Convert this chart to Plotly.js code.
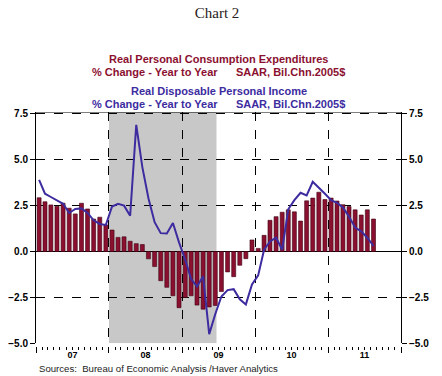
<!DOCTYPE html>
<html>
<head>
<meta charset="utf-8">
<script src="https://cdn.plot.ly/plotly-3.0.1.min.js"></script>
<style>html,body{margin:0;padding:0;background:#fff;}#chart{width:442px;height:376px;}</style>
</head>
<body>
<div id="chart"></div>
<script>
// Months (monthly observations)
const months = [
  '2007-01','2007-02','2007-03','2007-04','2007-05','2007-06','2007-07','2007-08','2007-09','2007-10','2007-11','2007-12',
  '2008-01','2008-02','2008-03','2008-04','2008-05','2008-06','2008-07','2008-08','2008-09','2008-10','2008-11','2008-12',
  '2009-01','2009-02','2009-03','2009-04','2009-05','2009-06','2009-07','2009-08','2009-09','2009-10','2009-11','2009-12',
  '2010-01','2010-02','2010-03','2010-04','2010-05','2010-06','2010-07','2010-08','2010-09','2010-10','2010-11','2010-12',
  '2011-01','2011-02','2011-03','2011-04','2011-05','2011-06','2011-07','2011-08'
];
// Real Personal Consumption Expenditures, % change y/y (bars)
const pce = [
  2.93, 2.71, 2.54, 2.47, 2.63, 2.36, 2.05, 2.63, 2.32, 1.77, 1.87, 1.45,
  1.17, 0.77, 0.80, 0.56, 0.43, 0.38, -0.40, -0.82, -1.59, -1.95, -2.41, -3.06,
  -2.50, -2.41, -2.92, -3.14, -3.02, -2.94, -2.18, -1.11, -1.37, -0.75, -0.39, 0.63,
  0.17, 0.88, 1.70, 1.90, 2.14, 2.27, 2.16, 1.66, 2.76, 2.91, 3.23, 2.83,
  2.91, 2.75, 2.55, 2.45, 2.27, 1.99, 2.27, 1.77
];
// Real Disposable Personal Income, % change y/y (line)
const dpi = [
  3.90, 3.15, 2.97, 2.80, 2.60, 2.10, 2.32, 2.35, 2.10, 1.70, 1.50, 1.45,
  2.45, 2.60, 2.50, 1.95, 6.90, 4.60, 2.90, 1.60, 1.00, 0.98, 1.55, 0.50,
  -0.45, -1.50, -1.90, -1.35, -4.50, -3.40, -2.45, -2.10, -2.05, -2.60, -2.88, -1.80,
  -1.30, 0.10, 0.55, 0.75, 0.10, 2.30, 2.80, 3.20, 3.05, 3.80, 3.50, 3.15,
  2.80, 2.65, 2.40, 1.90, 1.30, 1.10, 0.75, 0.30
];
const yTicks = [-5, -2.5, 0, 2.5, 5, 7.5];
const recession = ['2008-01-01', '2009-06-22'];

const tickFont = {family: 'Arial, "Liberation Sans", sans-serif', size: 10, color: '#000', weight: 700};
const xTickFont = {family: 'Arial, "Liberation Sans", sans-serif', size: 9, color: '#000', weight: 700};
const red = '#8b1030';
const blue = '#3c2ca0';
const hdrFont = c => ({family: 'Arial, "Liberation Sans", sans-serif', size: 11, color: c, weight: 700});

const traces = [
  {
    type: 'bar', x: months, y: pce,
    xperiod: 'M1', xperiodalignment: 'middle',
    width: 20 * 86400000,
    marker: {color: red, line: {color: '#3a0012', width: 0.6}},
    hoverinfo: 'skip', showlegend: false
  },
  {
    type: 'scatter', mode: 'lines', x: months, y: dpi,
    xperiod: 'M1', xperiodalignment: 'middle',
    line: {color: blue, width: 2},
    hoverinfo: 'skip', showlegend: false
  },
  {
    type: 'scatter', mode: 'lines', x: months, y: dpi, yaxis: 'y2',
    xperiod: 'M1', xperiodalignment: 'middle',
    line: {color: 'rgba(0,0,0,0)', width: 0}, opacity: 0,
    hoverinfo: 'skip', showlegend: false
  }
];

const yRange = [-5, 7.6];
const layout = {
  width: 442, height: 376,
  margin: {l: 36, r: 41, t: 112, b: 30},
  paper_bgcolor: '#fff', plot_bgcolor: '#fff',
  bargap: 0,
  title: {
    text: 'Chart 2', xref: 'container', x: 0.491, y: 0.965, yanchor: 'middle', xanchor: 'center',
    font: {family: '"Liberation Serif", "Times New Roman", serif', size: 15, color: '#2a2020'}
  },
  xaxis: {
    type: 'date', range: ['2007-01-01', '2012-01-01'],
    anchor: 'free', position: 0,
    tick0: '2007-01-01', dtick: 'M12', tickformat: '%y', ticklabelmode: 'period',
    ticks: 'outside', ticklen: 6, tickcolor: '#000', tickwidth: 1,
    ticklabelstandoff: -6,
    minor: {dtick: 'M1', ticks: 'outside', ticklen: 3, tickcolor: '#000', showgrid: false},
    showgrid: true, gridcolor: '#000', griddash: 'dash', gridwidth: 1,
    showline: false, zeroline: false,
    tickfont: xTickFont, fixedrange: true
  },
  yaxis: {
    range: yRange, domain: [0.0115, 1],
    tickmode: 'array', tickvals: yTicks, tickformat: '.1f',
    ticks: 'outside', ticklen: 5, tickcolor: '#000',
    showline: true, linecolor: '#000', linewidth: 1,
    showgrid: true, gridcolor: '#000', griddash: 'dash', gridwidth: 1,
    zeroline: true, zerolinecolor: '#000', zerolinewidth: 1,
    tickfont: tickFont, fixedrange: true
  },
  yaxis2: {
    range: yRange, overlaying: 'y', side: 'right',
    tickmode: 'array', tickvals: yTicks, tickformat: '.1f',
    ticks: 'outside', ticklen: 5, tickcolor: '#000',
    showline: true, linecolor: '#000', linewidth: 1,
    showgrid: false, zeroline: false,
    tickfont: tickFont, fixedrange: true
  },
  shapes: [
    {type: 'rect', xref: 'x', yref: 'y', x0: recession[0], x1: recession[1], y0: yRange[0], y1: yRange[1],
     fillcolor: '#c8c8c8', line: {width: 0}, layer: 'below'},
    {type: 'line', xref: 'paper', yref: 'y', x0: 0, x1: 1, y0: yRange[1], y1: yRange[1],
     line: {color: '#000', width: 1}}
  ],
  annotations: [
    {text: 'Real Personal Consumption Expenditures', xref: 'paper', yref: 'paper', x: 0.5, y: 1.2278,
     showarrow: false, xanchor: 'center', yanchor: 'middle', font: hdrFont(red)},
    {text: '% Change - Year to Year      SAAR, Bil.Chn.2005$', xref: 'paper', yref: 'paper', x: 0.5, y: 1.172,
     showarrow: false, xanchor: 'center', yanchor: 'middle', font: hdrFont(red)},
    {text: 'Real Disposable Personal Income', xref: 'paper', yref: 'paper', x: 0.5, y: 1.091,
     showarrow: false, xanchor: 'center', yanchor: 'middle', font: hdrFont(blue)},
    {text: '% Change - Year to Year      SAAR, Bil.Chn.2005$', xref: 'paper', yref: 'paper', x: 0.5, y: 1.0355,
     showarrow: false, xanchor: 'center', yanchor: 'middle', font: hdrFont(blue)},
    {text: 'Sources:  Bureau of Economic Analysis /Haver Analytics', xref: 'paper', yref: 'paper', x: 0.003, y: -0.096,
     showarrow: false, xanchor: 'left', yanchor: 'middle',
     font: {family: 'Arial, "Liberation Sans", sans-serif', size: 9.6, color: '#222'}}
  ]
};

Plotly.newPlot('chart', traces, layout, {displayModeBar: false, staticPlot: true});
</script>
</body>
</html>
